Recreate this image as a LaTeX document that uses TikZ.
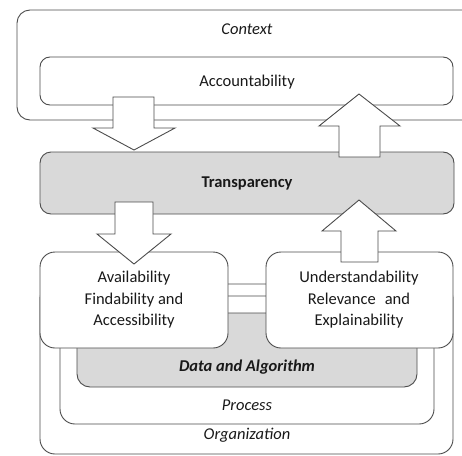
\documentclass[tikz,border=0pt]{standalone}
\usepackage{fontspec}
\setmainfont{Carlito}
\begin{document}
\begin{tikzpicture}[x=1pt,y=-1pt,
  box/.style={draw=black!70,line width=0.9pt,rounded corners=13pt,fill=white},
  graybox/.style={box,fill=black!15},
  bigarrow/.style={draw=black!70,line width=0.9pt,fill=white,line join=miter},
  lbl/.style={font=\fontsize{16.5}{21.5}\selectfont,align=center,text=black!90,inner sep=0pt}]
\useasboundingbox (0,0) rectangle (462,455);
\clip (0,0) rectangle (462,455);
% context
\draw[box] (17,10) rectangle (480,120);
\node[lbl,font=\fontsize{16.5}{21.5}\selectfont\itshape] (ctx) at (247,29) {Context};
\draw[box,rounded corners=10pt] (40,57) rectangle (453,105);
\node[lbl] (acc) at (247,82) {Accountability};
% transparency
\draw[graybox,rounded corners=11pt] (40,152) rectangle (454,214);
\node[lbl,font=\fontsize{16.5}{21.5}\selectfont\bfseries] (tra) at (247,183) {Transparency};
% nested boxes
\draw[box,rounded corners=15pt] (40,284) rectangle (453,454);
\draw[box,rounded corners=15pt] (60,296) rectangle (434,424);
\draw[graybox,rounded corners=13pt] (77,313) rectangle (417,387);
\node[lbl,font=\fontsize{16.5}{21.5}\selectfont\bfseries\itshape] (data) at (247,367) {Data and Algorithm};
\node[lbl,font=\fontsize{16.5}{21.5}\selectfont\itshape] (proc) at (247,405) {Process};
\node[lbl,font=\fontsize{16.5}{21.5}\selectfont\itshape] (org) at (247,435) {Organization};
% availability / understandability
\draw[box,rounded corners=15pt] (40,252) rectangle (228,348);
\node[lbl] (avail) at (134,300) {Availability\\Findability and\\Accessibility};
\draw[box,rounded corners=15pt] (266,252) rectangle (453,348);
\node[lbl] (under) at (359,300) {Understandability\\Relevance\hspace{0.55em}and\\Explainability};
% arrows
\draw[bigarrow] (113,97) -- (154,97) -- (154,128) -- (175,128) -- (134,150) -- (93,128) -- (113,128) -- cycle;
\draw[bigarrow] (339,157) -- (380,157) -- (380,126) -- (400,126) -- (359,94) -- (319,126) -- (339,126) -- cycle;
\draw[bigarrow] (115,202) -- (153,202) -- (153,234) -- (171,234) -- (134,264) -- (97,234) -- (115,234) -- cycle;
\draw[bigarrow] (341,262) -- (378,262) -- (378,231) -- (396,231) -- (359,200) -- (322,231) -- (341,231) -- cycle;
\end{tikzpicture}
\end{document}
